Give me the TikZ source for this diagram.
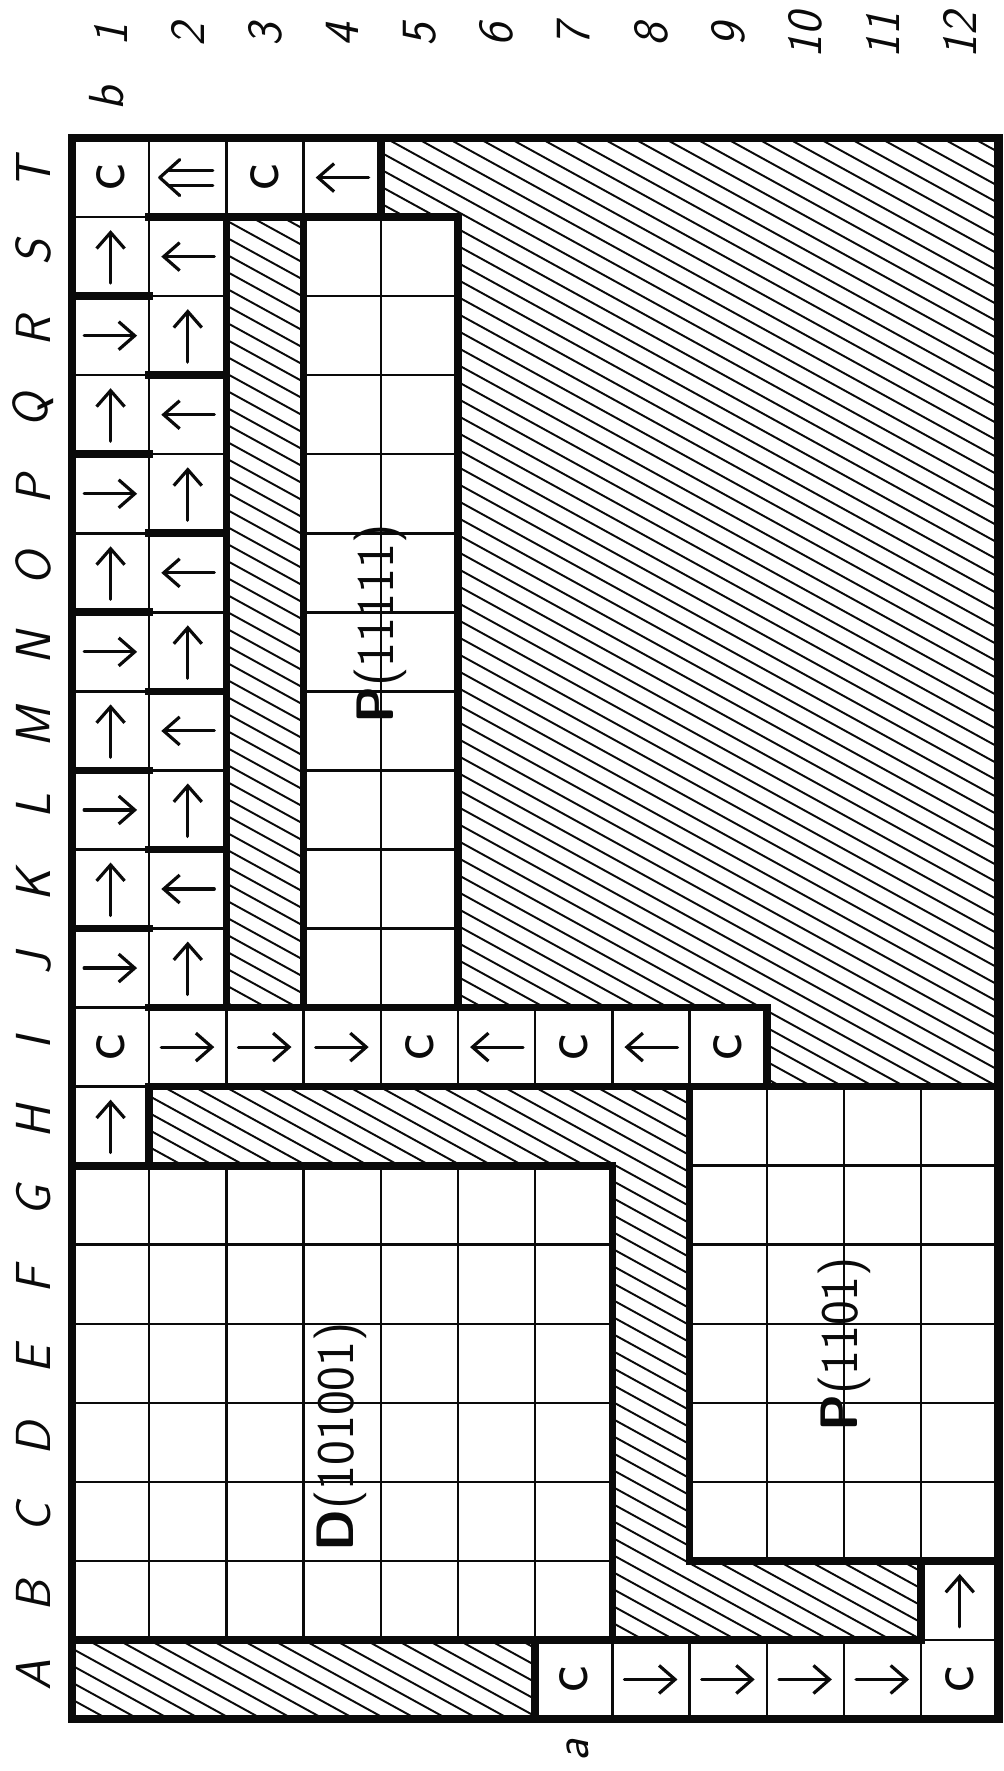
\documentclass[tikz,border=0pt]{standalone}
\usetikzlibrary{arrows.meta}
\definecolor{ink}{HTML}{0A0A0A}
\newcommand{\cellarrow}[3]{%
  \draw[arrowpen, -{Straight Barb[length=3.2mm, width=5.6mm]}]
    (#1,#2) ++(#3+180:5.3mm) -- ++(#3:10.6mm);}

\begin{document}
\begin{tikzpicture}[x=1.544cm, y=1.581cm,
    cellline/.style={ink, line width=1.4pt},
    wall/.style={ink, line width=4.4pt, line cap=rect, line join=miter},
    hatchline/.style={ink, line width=1.1pt},
    arrowpen/.style={ink, line width=1.8pt, line cap=round, line join=round},
    edgelab/.style={rotate=90, text=ink, font=\fontsize{28}{28}\selectfont\sffamily\slshape},
    cletter/.style={rotate=90, text=ink, font=\fontsize{36}{36}\selectfont\sffamily},
    wordlab/.style={rotate=90, text=ink, font=\fontsize{30}{30}\selectfont\sffamily}]
  \path[fill=white, use as bounding box] (-0.9326,-0.658) rectangle (12.065,21.747);

  % hatched parts
  \begin{scope}
    \clip (0,0) rectangle (6,1)
          (2,9) rectangle (3,19)
          (4,20) -- (12,20) -- (12,8) -- (9,8) -- (9,9) -- (5,9) -- (5,19) -- (4,19) -- cycle
          (1,8) -- (8,8) -- (8,2) -- (11,2) -- (11,1) -- (7,1) -- (7,7) -- (1,7) -- cycle;
    \foreach \k in {-5,...,140}{%
      \draw[hatchline] (-3cm,\k*3.4mm) -- ++(40cm,-22cm);}
  \end{scope}

  % cells
  \foreach \y in {7,...,19}{\draw[cellline] (0,\y) rectangle ++(1,1);}
  \foreach \y in {9,...,19}{\draw[cellline] (1,\y) rectangle ++(1,1);}
  \foreach \x in {2,3}{\draw[cellline] (\x,19) rectangle ++(1,1);}
  \foreach \x in {1,...,8}{\draw[cellline] (\x,8) rectangle ++(1,1);}
  \foreach \x in {0,...,6}{%
    \foreach \y in {1,...,6}{\draw[cellline] (\x,\y) rectangle ++(1,1);}}
  \foreach \x in {3,4}{%
    \foreach \y in {9,...,18}{\draw[cellline] (\x,\y) rectangle ++(1,1);}}
  \foreach \x in {8,...,11}{%
    \foreach \y in {2,...,7}{\draw[cellline] (\x,\y) rectangle ++(1,1);}}
  \foreach \x in {6,...,11}{\draw[cellline] (\x,0) rectangle ++(1,1);}
  \draw[cellline] (11,1) rectangle ++(1,1);

  % heavy walls
  \draw[wall, line width=5pt] (0,0) rectangle (12,20);
  \draw[wall] (0,7) -- (7,7) -- (7,1);
  \draw[wall] (0,1) -- (11,1) -- (11,2);
  \draw[wall] (6,0) -- (6,1);
  \draw[wall] (1,7) -- (1,8) -- (12,8);
  \draw[wall] (8,8) -- (8,2) -- (12,2);
  \draw[wall] (1,9) -- (9,9) -- (9,8);
  \draw[wall] (1,19) -- (5,19) -- (5,9);
  \draw[wall] (4,20) -- (4,19);
  \draw[wall] (2,19) -- (2,9);
  \draw[wall] (3,19) -- (3,9);
  \foreach \y in {10,12,...,18}{\draw[wall] (0,\y) -- (1,\y);}
  \foreach \y in {11,13,...,17}{\draw[wall] (1,\y) -- (2,\y);}

  % arrows in the cells
  \foreach \y in {10,12,...,18}{%
    \cellarrow{0.5}{\y+0.5}{90}
    \cellarrow{1.5}{\y+0.5}{180}
    \cellarrow{0.5}{\y-0.5}{0}
    \cellarrow{1.5}{\y-0.5}{90}}
  \cellarrow{0.5}{7.5}{90}
  \cellarrow{3.5}{19.5}{180}
  \foreach \x in {1,2,3}{\cellarrow{\x+0.5}{8.5}{0}}
  \foreach \x in {5,7}{\cellarrow{\x+0.5}{8.5}{180}}
  \foreach \x in {7,...,10}{\cellarrow{\x+0.5}{0.5}{0}}
  \cellarrow{11.5}{1.5}{90}
  \begin{scope}[shift={(1.5,19.5)}]
    \draw[arrowpen] (-3.9mm,1.5mm) -- (5mm,1.5mm) (-3.9mm,-1.5mm) -- (5mm,-1.5mm);
    \draw[arrowpen] (-1.6mm,3.6mm) -- (-5.6mm,0mm) -- (-1.6mm,-3.6mm);
  \end{scope}

  % c cells
  \foreach \nm/\x/\y in {T1/0.5/19.5, T3/2.5/19.5, I1/0.5/8.5, I5/4.5/8.5,
                         I7/6.5/8.5, I9/8.5/8.5, A7/6.5/0.5, A12/11.5/0.5}{%
    \node[cletter] (c\nm) at (\x,\y) {c};}

  % words
  \node[wordlab] (wordP) at (4,13.85) {\textbf{P}(11111)};
  \node[wordlab] (wordD) at (3.48,3.57) {\textbf{D}(101001)};
  \node[wordlab] (wordQ) at (10,4.74) {\textbf{P}(1101)};

  % margins
  \foreach \l [count=\i] in {A,...,T}{%
    \node[edgelab] (row\l) at (-0.5,\i-0.45) {\l};}
  \foreach \c in {1,...,12}{%
    \node[edgelab] (col\c) at (\c-0.5,21.3) {\c};}
  \node[edgelab] (labb) at (0.45,20.5) {b};
  \node[edgelab] (laba) at (6.55,-0.4) {a};
\end{tikzpicture}
\end{document}
